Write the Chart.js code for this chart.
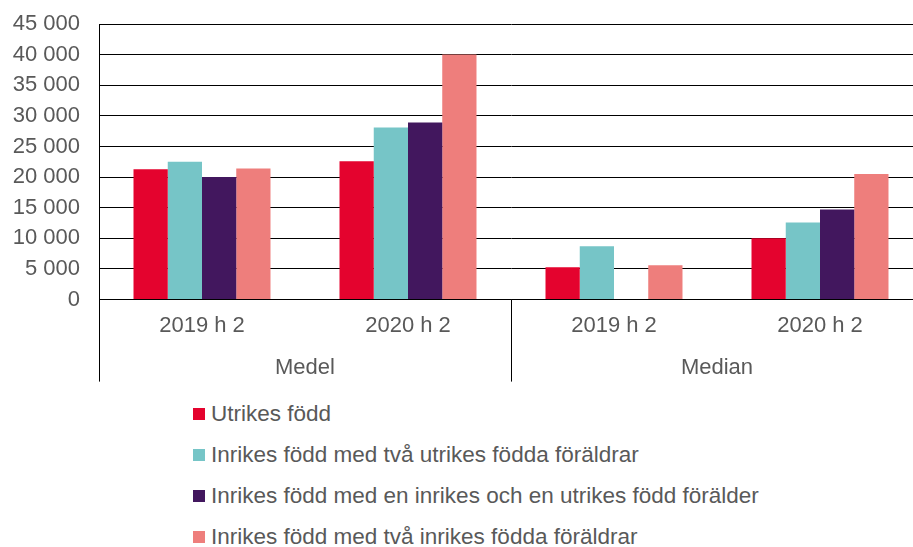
<!DOCTYPE html>
<html>
<head>
<meta charset="utf-8">
<script src="https://cdn.jsdelivr.net/npm/chart.js@4"></script>
<style>
  body { margin: 0; background: #fff; overflow: hidden; }
  #wrap { position: relative; width: 913px; height: 547px; overflow: hidden; font-family: "Liberation Sans", Arial, sans-serif; }
  #chartBox { position: absolute; left: 0; top: 0; width: 923px; height: 392px; }
  #legend { position: absolute; left: 193px; top: 393px; }
  .item { height: 41px; display: flex; align-items: center; font-size: 22.5px; color: #595959; }
  .box { width: 12px; height: 12px; margin-right: 6px; }
</style>
</head>
<body>
<div id="wrap">
  <div id="chartBox"><canvas id="grafico"></canvas></div>
  <div id="legend"></div>
</div>
<script>
// Kategorier och grupper
const kategorier = ['2019 h 2', '2020 h 2', '2019 h 2', '2020 h 2'];
const grupper = ['Medel', 'Median'];
const yTicks = [0, 5000, 10000, 15000, 20000, 25000, 30000, 35000, 40000, 45000];

// Serier
const utrikesFodd = [21300, 22600, 5300, 10000];
const tvaUtrikesForaldrar = [22500, 28100, 8700, 12600];
const enInrikesEnUtrikes = [20000, 28900, null, 14700];
const tvaInrikesForaldrar = [21400, 40000, 5600, 20500];

const serier = [
  { label: 'Utrikes född', data: utrikesFodd, color: '#e4032e' },
  { label: 'Inrikes född med två utrikes födda föräldrar', data: tvaUtrikesForaldrar, color: '#76c5c7' },
  { label: 'Inrikes född med en inrikes och en utrikes född förälder', data: enInrikesEnUtrikes, color: '#42175e' },
  { label: 'Inrikes född med två inrikes födda föräldrar', data: tvaInrikesForaldrar, color: '#ee7e7c' }
];

const formatera = v => String(v).replace(/\B(?=(\d{3})+(?!\d))/g, ' ');
const typsnitt = '"Liberation Sans", Arial, sans-serif';

// Ritar grupprubriker och avgränsare under x-axeln
const gruppPlugin = {
  id: 'grupper',
  afterDraw(chart) {
    const ctx = chart.ctx;
    const x = chart.scales.x;
    const area = chart.chartArea;
    const botten = area.bottom + 82;
    ctx.save();
    ctx.strokeStyle = '#000';
    ctx.lineWidth = 1;
    const mitt = Math.round((x.getPixelForValue(1) + x.getPixelForValue(2)) / 2) + 0.5;
    [Math.round(area.left) + 0.5, mitt].forEach(px => {
      ctx.beginPath();
      ctx.moveTo(px, area.bottom);
      ctx.lineTo(px, botten);
      ctx.stroke();
    });
    ctx.fillStyle = '#595959';
    ctx.font = '22px ' + typsnitt;
    ctx.textAlign = 'center';
    ctx.textBaseline = 'middle';
    grupper.forEach((g, i) => {
      const cx = (x.getPixelForValue(i * 2) + x.getPixelForValue(i * 2 + 1)) / 2;
      ctx.fillText(g, cx, area.bottom + 68);
    });
    ctx.restore();
  }
};

const ctx = document.getElementById('grafico').getContext('2d');
const chart = new Chart(ctx, {
  type: 'bar',
  data: {
    labels: kategorier,
    datasets: serier.map(s => ({
      label: s.label,
      data: s.data,
      backgroundColor: s.color,
      borderWidth: 0
    }))
  },
  options: {
    responsive: true,
    maintainAspectRatio: false,
    animation: false,
    layout: { padding: { top: 24, right: 0, bottom: 48, left: 0 } },
    datasets: { bar: { barPercentage: 1, categoryPercentage: 0.665 } },
    plugins: {
      legend: { display: false },
      tooltip: { enabled: false }
    },
    scales: {
      x: {
        grid: { display: false },
        border: { color: '#000', width: 1 },
        ticks: { color: '#595959', font: { size: 22, family: typsnitt }, padding: 5, maxRotation: 0 }
      },
      y: {
        min: 0,
        max: 45000,
        afterBuildTicks: axis => { axis.ticks = yTicks.map(v => ({ value: v })); },
        afterFit: axis => { axis.width = 99; axis.paddingTop = 0; axis.paddingBottom = 0; },
        grid: { color: '#000', lineWidth: 1, drawTicks: false },
        border: { color: '#000', width: 1 },
        ticks: {
          color: '#595959',
          font: { size: 22, family: typsnitt },
          padding: 19,
          callback: v => formatera(v)
        }
      }
    }
  },
  plugins: [gruppPlugin]
});

// Legend som lista
const legend = document.getElementById('legend');
serier.forEach(s => {
  const rad = document.createElement('div');
  rad.className = 'item';
  rad.innerHTML = '<span class="box" style="background:' + s.color + '"></span>' + s.label;
  legend.appendChild(rad);
});
</script>
</body>
</html>
